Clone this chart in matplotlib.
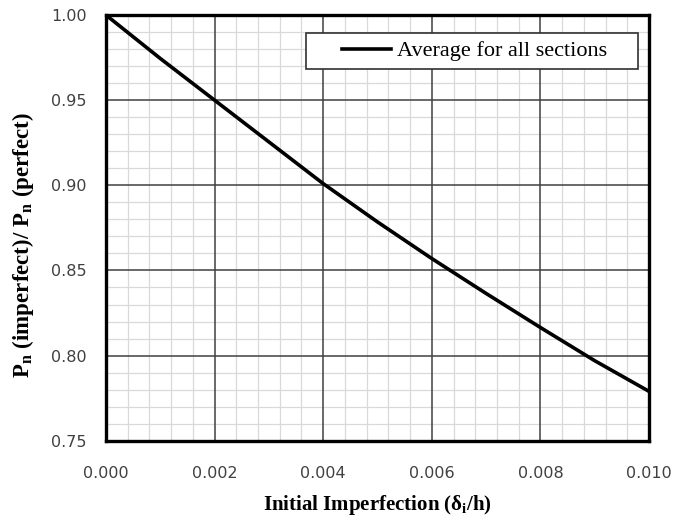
import matplotlib
matplotlib.use('Agg')
import matplotlib.pyplot as plt
from matplotlib.patches import Rectangle
from matplotlib.ticker import MultipleLocator

# initial imperfection ratio and strength ratio
imperfection = [0.000, 0.001, 0.002, 0.003, 0.004, 0.005, 0.006, 0.007, 0.008, 0.009, 0.010]
strength_ratio = [1.000, 0.9745, 0.950, 0.9255, 0.901, 0.8785, 0.857, 0.8365, 0.8165, 0.797, 0.779]

xticks = [0.000, 0.002, 0.004, 0.006, 0.008, 0.010]
yticks = [0.75, 0.80, 0.85, 0.90, 0.95, 1.00]

plt.rcParams['mathtext.fontset'] = 'stix'

fig = plt.figure(figsize=(6.73, 5.2), dpi=100)
ax = fig.add_axes([0.1575, 0.1525, 0.8068, 0.8185])

ax.set_xlim(0, 0.010)
ax.set_ylim(0.75, 1.00)
ax.set_xticks(xticks)
ax.set_yticks(yticks)
ax.set_xticklabels(['%.3f' % v for v in xticks])
ax.set_yticklabels(['%.2f' % v for v in yticks])
ax.xaxis.set_minor_locator(MultipleLocator(0.0004))
ax.yaxis.set_minor_locator(MultipleLocator(0.01))

# light minor grid underneath, darker major grid on top of it
ax.set_axisbelow(True)
ax.grid(which='minor', color='#d9d9d9', lw=0.9)
for v in xticks[1:-1]:
    ax.axvline(v, color='#404040', lw=1.1, zorder=1)
for v in yticks[1:-1]:
    ax.axhline(v, color='#404040', lw=1.1, zorder=1)

ax.plot(imperfection, strength_ratio, color='black', lw=2.6,
        label='Average for all sections', zorder=3)

ax.tick_params(which='both', length=0)
ax.tick_params(axis='x', pad=18, labelsize=11.5, labelcolor='#404040')
ax.tick_params(axis='y', pad=14, labelsize=11.5, labelcolor='#404040')
for sp in ax.spines.values():
    sp.set_linewidth(2.4)
    sp.set_zorder(4)

ax.set_xlabel(r'Initial Imperfection ($\mathregular{\delta_i}$/h)',
              family='Liberation Serif', fontsize=15, fontweight='bold', labelpad=9)
ax.set_ylabel(r'P$_\mathregular{n}$ (imperfect)/ P$_\mathregular{n}$ (perfect)',
              family='Liberation Serif', fontsize=16.5, fontweight='bold')
ax.yaxis.set_label_coords(-0.128, 0.46)

# legend box: wide frame with the entry set to the right
ax.add_patch(Rectangle((0.368, 0.873), 0.612, 0.085, transform=ax.transAxes,
                       facecolor='white', edgecolor='#303030', lw=1.2, zorder=5))
leg = ax.legend(loc='center left', bbox_to_anchor=(0.435, 0.9155), frameon=False,
                handlelength=2.2, handletextpad=0.27, borderpad=0, borderaxespad=0,
                prop={'family': 'Liberation Serif', 'size': 16})
leg.set_zorder(6)

fig.savefig('out.png', dpi=100)
